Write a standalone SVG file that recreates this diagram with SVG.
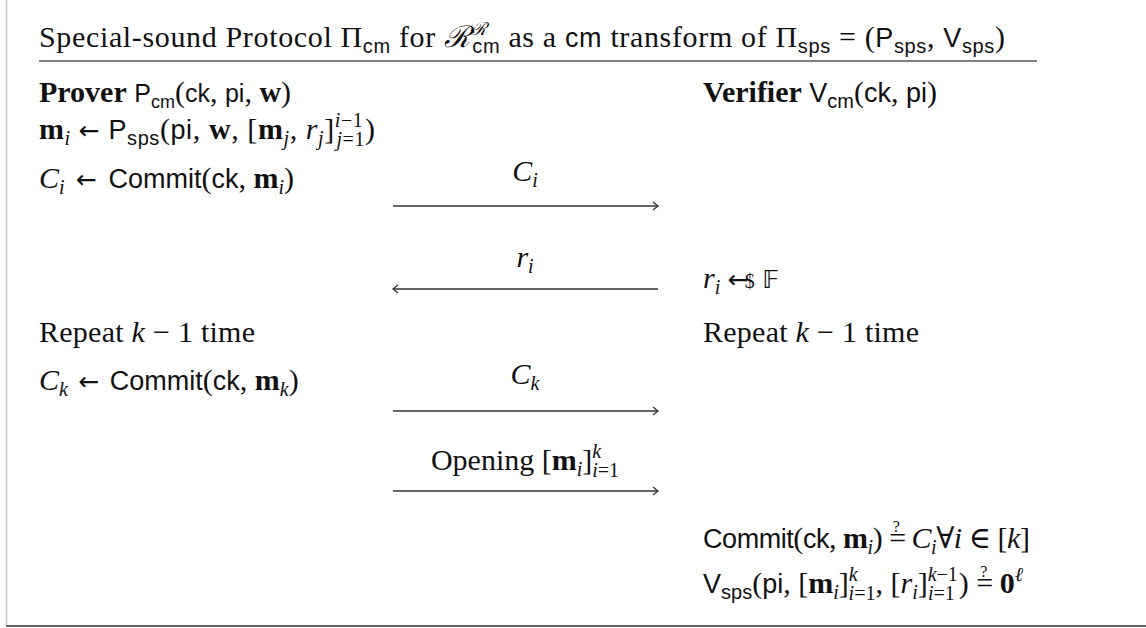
<svg xmlns="http://www.w3.org/2000/svg" width="1146" height="628" viewBox="0 0 1146 628">
<style>
text{font-family:"Liberation Serif","DejaVu Serif",serif;font-size:30px;fill:#111}
.ss{font-family:"Liberation Sans","DejaVu Sans",sans-serif;font-size:27px}
.it{font-style:italic}
.b{font-weight:bold}
.sm{font-size:20px}
.ss.sm{font-size:20px}
.ss.n{font-size:25px}
.ss.sm.n{font-size:18px}
.sym{font-family:"DejaVu Sans","Liberation Serif",sans-serif;font-size:25px}
.q{font-size:16px}
.conn line{stroke:#333;stroke-width:1.3}
</style>
<defs>
<marker id="ah" markerWidth="8" markerHeight="10" refX="6" refY="5" orient="auto-start-reverse" markerUnits="userSpaceOnUse">
<path d="M1,1 L6,5 L1,9" fill="none" stroke="#333" stroke-width="1.3"/>
</marker>
</defs>
<rect width="1146" height="628" fill="#fff"/>
<g id="frame">
<line x1="6.5" y1="0" x2="6.5" y2="626" stroke="#c8c8c8" stroke-width="1.5"/>
<line x1="6" y1="626" x2="1146" y2="626" stroke="#666" stroke-width="2"/>
<line x1="39" y1="61" x2="1037" y2="61" stroke="#555" stroke-width="1.5"/>
</g>
<g id="title">
<text x="39" y="47" textLength="966">Special-sound Protocol Π<tspan class="ss sm" dy="6">cm</tspan><tspan dy="-6"> for </tspan><tspan class="it">ℛ</tspan><tspan class="it" font-size="18" dy="-12">ℛ</tspan><tspan class="ss sm" dx="-15" dy="18">cm</tspan><tspan dy="-6"> as a </tspan><tspan class="ss">cm</tspan> transform of Π<tspan class="ss sm" dy="6">sps</tspan><tspan dy="-6"> = (</tspan><tspan class="ss">P</tspan><tspan class="ss sm" dy="6">sps</tspan><tspan dy="-6">, </tspan><tspan class="ss">V</tspan><tspan class="ss sm" dy="6">sps</tspan><tspan dy="-6">)</tspan></text>
</g>
<g id="prover-head">
<text x="39" y="102"><tspan class="b">Prover</tspan> <tspan class="ss n">P</tspan><tspan class="ss sm n" dy="6">cm</tspan><tspan dy="-6">(</tspan><tspan class="ss n">ck</tspan>, <tspan class="ss n">pi</tspan>, <tspan class="b">w</tspan>)</text>
</g>
<g id="verifier-head">
<text x="703" y="102"><tspan class="b">Verifier</tspan> <tspan class="ss">V</tspan><tspan class="ss sm" dy="6">cm</tspan><tspan dy="-6">(</tspan><tspan class="ss">ck</tspan>, <tspan class="ss">pi</tspan>)</text>
</g>
<g id="prover-msg">
<text x="39" y="139" textLength="336"><tspan class="b">m</tspan><tspan class="it sm" dy="6">i</tspan><tspan dy="-6"> </tspan><tspan class="sym">←</tspan> <tspan class="ss">P</tspan><tspan class="ss sm" dy="6">sps</tspan><tspan dy="-6">(</tspan><tspan class="ss">pi</tspan>, <tspan class="b">w</tspan>, [<tspan class="b">m</tspan><tspan class="it sm" dy="6">j</tspan><tspan dy="-6">, </tspan><tspan class="it">r</tspan><tspan class="it sm" dy="6">j</tspan><tspan dy="-6">]</tspan><tspan class="sm" dy="-12"><tspan class="it">i</tspan>−1</tspan><tspan class="sm" dx="-27" dy="19"><tspan class="it">j</tspan>=1</tspan><tspan dy="-7">)</tspan></text>
</g>
<g id="prover-commit-i">
<text x="39" y="188"><tspan class="it">C</tspan><tspan class="it sm" dy="6">i</tspan><tspan dy="-6"> </tspan><tspan class="sym" dx="4">←</tspan><tspan dx="4"> </tspan><tspan class="ss">Commit</tspan>(<tspan class="ss">ck</tspan>, <tspan class="b">m</tspan><tspan class="it sm" dy="6">i</tspan><tspan dy="-6">)</tspan></text>
</g>
<g id="verifier-sample">
<text x="703" y="288"><tspan class="it">r</tspan><tspan class="it sm" dy="6">i</tspan><tspan dy="-6"> </tspan><tspan class="sym">←</tspan><tspan font-size="20" dx="-4">$</tspan> <tspan class="sym">𝔽</tspan></text>
</g>
<g id="prover-repeat">
<text x="39" y="342" textLength="216">Repeat <tspan class="it">k</tspan> − 1 time</text>
</g>
<g id="verifier-repeat">
<text x="703" y="342" textLength="216">Repeat <tspan class="it">k</tspan> − 1 time</text>
</g>
<g id="prover-commit-k">
<text x="39" y="390"><tspan class="it">C</tspan><tspan class="it sm" dy="6">k</tspan><tspan dy="-6"> </tspan><tspan class="sym" dx="3">←</tspan><tspan dx="3"> </tspan><tspan class="ss">Commit</tspan>(<tspan class="ss">ck</tspan>, <tspan class="b">m</tspan><tspan class="it sm" dy="6">k</tspan><tspan dy="-6">)</tspan></text>
</g>
<g id="verifier-check1">
<text x="703" y="548" textLength="327"><tspan class="ss">Commit</tspan>(<tspan class="ss">ck</tspan>, <tspan class="b">m</tspan><tspan class="it sm" dy="6">i</tspan><tspan dy="-6">) =</tspan><tspan class="q" dx="-13" dy="-16">?</tspan><tspan dx="5" dy="16"> </tspan><tspan class="it">C</tspan><tspan class="it sm" dy="6">i</tspan><tspan dy="-6">∀</tspan><tspan class="it">i</tspan> ∈ [<tspan class="it">k</tspan>]</text>
</g>
<g id="verifier-check2">
<text x="703" y="593"><tspan class="ss">V</tspan><tspan class="ss sm" dy="6">sps</tspan><tspan dy="-6">(</tspan><tspan class="ss">pi</tspan>, [<tspan class="b">m</tspan><tspan class="it sm" dy="6">i</tspan><tspan dy="-6">]</tspan><tspan class="it sm" dy="-12">k</tspan><tspan class="sm" dx="-9" dy="19"><tspan class="it">i</tspan>=1</tspan><tspan dy="-7">, [</tspan><tspan class="it">r</tspan><tspan class="it sm" dy="6">i</tspan><tspan dy="-6">]</tspan><tspan class="sm" dy="-12"><tspan class="it">k</tspan>−1</tspan><tspan class="sm" dx="-30" dy="19"><tspan class="it">i</tspan>=1</tspan><tspan dx="4" dy="-7">) =</tspan><tspan class="q" dx="-13" dy="-16">?</tspan><tspan dx="5" dy="16"> </tspan><tspan class="b">0</tspan><tspan class="it sm" dy="-12">ℓ</tspan></text>
</g>
<g class="conn" id="connectors">
<line x1="393" y1="206" x2="658" y2="206" marker-end="url(#ah)"/>
<line x1="393" y1="289" x2="658" y2="289" marker-start="url(#ah)"/>
<line x1="393" y1="411" x2="658" y2="411" marker-end="url(#ah)"/>
<line x1="393" y1="491" x2="658" y2="491" marker-end="url(#ah)"/>
</g>
<g id="label-ci">
<text x="525" y="181" text-anchor="middle"><tspan class="it">C</tspan><tspan class="it sm" dy="6">i</tspan></text>
</g>
<g id="label-ri">
<text x="525" y="267" text-anchor="middle"><tspan class="it">r</tspan><tspan class="it sm" dy="6">i</tspan></text>
</g>
<g id="label-ck">
<text x="525" y="384" text-anchor="middle"><tspan class="it">C</tspan><tspan class="it sm" dy="6">k</tspan></text>
</g>
<g id="label-open">
<text x="525" y="470" text-anchor="middle">Opening [<tspan class="b">m</tspan><tspan class="it sm" dy="6">i</tspan><tspan dy="-6">]</tspan><tspan class="it sm" dy="-12">k</tspan><tspan class="sm" dx="-9" dy="19"><tspan class="it">i</tspan>=1</tspan></text>
</g>
</svg>
